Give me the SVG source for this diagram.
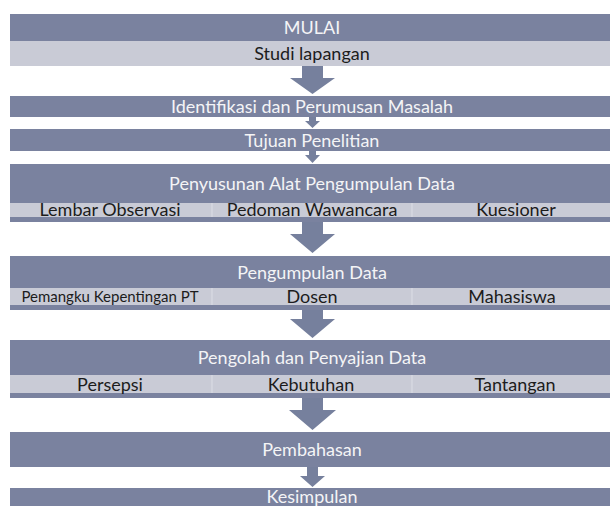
<svg xmlns="http://www.w3.org/2000/svg" width="610" height="506" viewBox="0 0 610 506">
<style>
.dark{fill:#7a829f}
.light{fill:#c9cbd6}
.sep{stroke:#dcdee6;stroke-width:1}
.arr{fill:#76809d}
.tw{font-family:Lato,"Open Sans",sans-serif;font-size:18px;fill:#f4f4f6;text-anchor:middle}
.tk{font-family:Lato,"Open Sans",sans-serif;font-size:18px;fill:#1c1c1c;text-anchor:middle}
</style>
<rect width="610" height="506" fill="#ffffff"/>
<g id="mulai">
<rect class="dark" x="10" y="14" width="600" height="27"/>
<text class="tw" x="312" y="33.5">MULAI</text>
</g>
<g id="studi">
<rect class="light" x="10" y="41" width="600" height="25"/>
<text class="tk" x="312" y="60">Studi lapangan</text>
</g>
<g id="identifikasi">
<rect class="dark" x="10" y="96" width="600" height="21"/>
<text class="tw" x="312" y="112.5">Identifikasi dan Perumusan Masalah</text>
</g>
<g id="tujuan">
<rect class="dark" x="10" y="129" width="600" height="22"/>
<text class="tw" x="312" y="146.5">Tujuan Penelitian</text>
</g>
<g id="penyusunan">
<rect class="dark" x="10" y="164" width="600" height="58"/>
<text class="tw" x="312" y="190">Penyusunan Alat Pengumpulan Data</text>
<rect class="light" x="10" y="203" width="600" height="14"/>
<line class="sep" x1="212" y1="203" x2="212" y2="217"/>
<line class="sep" x1="412" y1="203" x2="412" y2="217"/>
<text class="tk" x="110" y="216">Lembar Observasi</text>
<text class="tk" x="312" y="216">Pedoman Wawancara</text>
<text class="tk" x="516" y="216">Kuesioner</text>
</g>
<g id="pengumpulan">
<rect class="dark" x="10" y="256" width="600" height="54"/>
<text class="tw" x="312" y="278.5">Pengumpulan Data</text>
<rect class="light" x="10" y="288" width="600" height="17"/>
<line class="sep" x1="212" y1="288" x2="212" y2="305"/>
<line class="sep" x1="412" y1="288" x2="412" y2="305"/>
<text class="tk" x="110" y="302" style="font-size:15px">Pemangku Kepentingan PT</text>
<text class="tk" x="312" y="303">Dosen</text>
<text class="tk" x="512" y="303">Mahasiswa</text>
</g>
<g id="pengolah">
<rect class="dark" x="10" y="340" width="600" height="58"/>
<text class="tw" x="312" y="364">Pengolah dan Penyajian Data</text>
<rect class="light" x="10" y="375" width="600" height="18"/>
<line class="sep" x1="212" y1="375" x2="212" y2="393"/>
<line class="sep" x1="412" y1="375" x2="412" y2="393"/>
<text class="tk" x="110" y="390.5">Persepsi</text>
<text class="tk" x="311" y="390.5">Kebutuhan</text>
<text class="tk" x="515" y="390.5">Tantangan</text>
</g>
<g id="pembahasan">
<rect class="dark" x="10" y="432" width="600" height="35"/>
<text class="tw" x="312" y="456">Pembahasan</text>
</g>
<g id="kesimpulan">
<rect class="dark" x="10" y="488" width="600" height="18"/>
<text class="tw" x="312" y="503">Kesimpulan</text>
</g>
<g id="connectors">
<polygon class="arr" points="302,66 323,66 323,78 335,78 312.5,94 290,78 302,78"/>
<polygon class="arr" points="309,117 316,117 316,121 320,121 312.5,128 305,121 309,121"/>
<polygon class="arr" points="309,151 316,151 316,155 320,155 312.5,163 305,155 309,155"/>
<polygon class="arr" points="302,222 323,222 323,234 335,234 312.5,253 290,234 302,234"/>
<polygon class="arr" points="302,310 323,310 323,319 335,319 312.5,338 290,319 302,319"/>
<polygon class="arr" points="302,398 323,398 323,410 336,410 312.5,430 289,410 302,410"/>
<polygon class="arr" points="307,467 318,467 318,476 325,476 312.5,487 300,476 307,476"/>
</g>
</svg>
